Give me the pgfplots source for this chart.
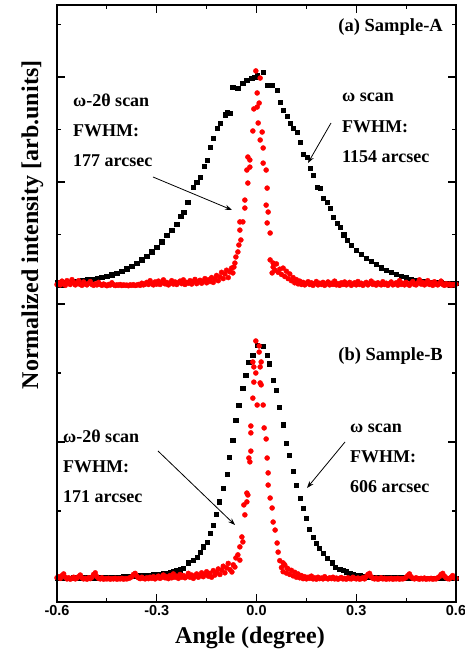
\documentclass[border=0pt]{standalone}
\usepackage{fontspec}
\setmainfont{Liberation Serif}
\newfontfamily\arialfont{Liberation Sans}
\usepackage{pgfplots}
\usepackage{pgfplotstable}
\pgfplotsset{compat=1.18}
\usetikzlibrary{arrows.meta}

% ---------------- Sample A ----------------
% omega scan (rocking curve)
\pgfplotstableread{
x y
-0.600 0.020
-0.585 0.022
-0.570 0.024
-0.555 0.026
-0.540 0.028
-0.525 0.031
-0.510 0.034
-0.495 0.037
-0.480 0.041
-0.465 0.046
-0.450 0.051
-0.435 0.058
-0.420 0.066
-0.405 0.075
-0.390 0.087
-0.375 0.100
-0.360 0.114
-0.345 0.130
-0.330 0.148
-0.315 0.168
-0.300 0.190
-0.285 0.216
-0.270 0.246
-0.255 0.270
-0.240 0.300
-0.228 0.338
-0.219 0.357
-0.207 0.405
-0.191 0.476
-0.180 0.500
-0.170 0.524
-0.158 0.575
-0.149 0.605
-0.140 0.667
-0.131 0.710
-0.119 0.757
-0.110 0.781
-0.095 0.820
-0.089 0.833
-0.080 0.829
-0.071 0.952
-0.056 0.948
-0.041 0.971
-0.029 0.986
-0.014 0.995
-0.005 1.000
0.002 1.010
0.020 1.024
0.032 0.962
0.047 0.962
0.062 0.938
0.071 0.881
0.080 0.843
0.092 0.814
0.101 0.781
0.110 0.757
0.122 0.738
0.131 0.690
0.140 0.633
0.152 0.619
0.161 0.567
0.170 0.533
0.182 0.476
0.191 0.471
0.200 0.424
0.212 0.405
0.221 0.376
0.230 0.333
0.242 0.305
0.252 0.286
0.262 0.250
0.272 0.224
0.285 0.198
0.300 0.176
0.315 0.156
0.330 0.138
0.345 0.122
0.360 0.108
0.375 0.092
0.390 0.080
0.405 0.070
0.420 0.060
0.435 0.052
0.450 0.045
0.465 0.038
0.480 0.033
0.495 0.029
0.510 0.025
0.525 0.023
0.540 0.021
0.555 0.020
0.570 0.019
0.585 0.018
0.600 0.018
}\AomegaTable

% omega-2theta scan
\pgfplotstableread{
x y
-0.600 0.012
-0.595 0.020
-0.590 0.010
-0.585 0.028
-0.580 0.015
-0.575 0.008
-0.570 0.030
-0.565 0.018
-0.560 0.012
-0.555 0.035
-0.550 0.022
-0.545 0.010
-0.540 0.016
-0.535 0.030
-0.530 0.012
-0.525 0.008
-0.520 0.024
-0.515 0.014
-0.510 0.010
-0.505 0.018
-0.500 0.026
-0.495 0.012
-0.490 0.008
-0.485 0.015
-0.480 0.010
-0.475 0.022
-0.470 0.012
-0.465 0.008
-0.460 0.014
-0.455 0.010
-0.450 0.006
-0.445 0.012
-0.440 0.009
-0.435 0.020
-0.430 0.011
-0.425 0.007
-0.420 0.010
-0.415 0.008
-0.410 0.012
-0.405 0.007
-0.400 0.010
-0.395 0.008
-0.390 0.009
-0.385 0.006
-0.380 0.010
-0.375 0.008
-0.370 0.011
-0.365 0.007
-0.360 0.009
-0.355 0.012
-0.350 0.008
-0.345 0.018
-0.340 0.010
-0.335 0.014
-0.330 0.022
-0.325 0.012
-0.320 0.030
-0.315 0.016
-0.310 0.010
-0.305 0.024
-0.300 0.014
-0.295 0.028
-0.290 0.012
-0.285 0.020
-0.280 0.034
-0.275 0.015
-0.270 0.022
-0.265 0.010
-0.260 0.018
-0.255 0.030
-0.250 0.014
-0.245 0.024
-0.240 0.012
-0.235 0.020
-0.230 0.028
-0.225 0.016
-0.220 0.034
-0.215 0.012
-0.210 0.022
-0.205 0.018
-0.200 0.030
-0.195 0.014
-0.190 0.026
-0.185 0.036
-0.180 0.016
-0.175 0.024
-0.170 0.032
-0.165 0.018
-0.160 0.028
-0.155 0.040
-0.150 0.020
-0.145 0.034
-0.140 0.026
-0.135 0.045
-0.130 0.022
-0.125 0.038
-0.120 0.055
-0.115 0.030
-0.110 0.048
-0.105 0.070
-0.100 0.040
-0.095 0.062
-0.090 0.080
-0.085 0.045
-0.080 0.072
-0.075 0.090
-0.071 0.067
-0.068 0.095
-0.065 0.114
-0.062 0.143
-0.056 0.167
-0.053 0.200
-0.047 0.224
-0.050 0.271
-0.050 0.310
-0.041 0.310
-0.035 0.376
-0.035 0.414
-0.026 0.495
-0.029 0.557
-0.020 0.571
-0.020 0.605
-0.026 0.619
-0.011 0.743
-0.008 0.848
0.002 0.857
0.005 0.781
0.008 0.876
0.002 0.924
0.011 0.995
-0.002 1.029
0.011 0.700
0.017 0.738
0.020 0.662
0.020 0.590
0.029 0.557
0.032 0.471
0.029 0.390
0.035 0.357
0.032 0.305
0.041 0.257
0.041 0.129
0.050 0.114
0.047 0.067
0.050 0.095
0.055 0.080
0.060 0.110
0.065 0.070
0.070 0.085
0.075 0.060
0.080 0.090
0.085 0.050
0.090 0.075
0.095 0.040
0.100 0.062
0.105 0.030
0.110 0.045
0.115 0.020
0.120 0.035
0.125 0.015
0.130 0.028
0.135 0.012
0.140 0.022
0.145 0.010
0.150 0.018
0.155 0.025
0.160 0.012
0.165 0.020
0.170 0.008
0.175 0.016
0.180 0.026
0.185 0.010
0.190 0.018
0.195 0.012
0.200 0.022
0.205 0.008
0.210 0.015
0.215 0.024
0.220 0.010
0.225 0.018
0.230 0.012
0.235 0.028
0.240 0.010
0.245 0.016
0.250 0.008
0.255 0.020
0.260 0.012
0.265 0.024
0.270 0.010
0.275 0.015
0.280 0.022
0.285 0.008
0.290 0.014
0.295 0.020
0.300 0.010
0.305 0.026
0.310 0.012
0.315 0.018
0.320 0.008
0.325 0.015
0.330 0.022
0.335 0.010
0.340 0.016
0.345 0.028
0.350 0.012
0.355 0.018
0.360 0.009
0.365 0.020
0.370 0.014
0.375 0.010
0.380 0.025
0.385 0.012
0.390 0.018
0.395 0.008
0.400 0.016
0.405 0.024
0.410 0.010
0.415 0.014
0.420 0.020
0.425 0.009
0.430 0.030
0.435 0.012
0.440 0.018
0.445 0.010
0.450 0.022
0.455 0.014
0.460 0.008
0.465 0.018
0.470 0.026
0.475 0.012
0.480 0.010
0.485 0.020
0.490 0.034
0.495 0.014
0.500 0.022
0.505 0.010
0.510 0.016
0.515 0.030
0.520 0.012
0.525 0.020
0.530 0.008
0.535 0.025
0.540 0.014
0.545 0.010
0.550 0.018
0.555 0.028
0.560 0.012
0.565 0.008
0.570 0.016
0.575 0.010
0.580 0.014
0.585 0.008
0.590 0.012
0.595 0.010
0.600 0.014
}\AtwothetaTable

% ---------------- Sample B ----------------
% omega scan (rocking curve)
\pgfplotstableread{
x y
-0.600 0.006
-0.590 0.006
-0.580 0.007
-0.570 0.007
-0.560 0.007
-0.550 0.008
-0.540 0.008
-0.530 0.008
-0.520 0.008
-0.510 0.009
-0.500 0.009
-0.490 0.009
-0.480 0.009
-0.470 0.010
-0.460 0.010
-0.450 0.010
-0.440 0.010
-0.430 0.011
-0.420 0.011
-0.410 0.011
-0.400 0.012
-0.390 0.012
-0.380 0.013
-0.370 0.013
-0.360 0.014
-0.350 0.015
-0.340 0.016
-0.330 0.017
-0.320 0.018
-0.310 0.019
-0.300 0.020
-0.290 0.021
-0.280 0.023
-0.270 0.025
-0.260 0.027
-0.250 0.030
-0.240 0.033
-0.230 0.038
-0.221 0.043
-0.206 0.062
-0.191 0.072
-0.179 0.083
-0.170 0.101
-0.161 0.120
-0.149 0.138
-0.140 0.170
-0.131 0.199
-0.122 0.239
-0.113 0.283
-0.101 0.333
-0.089 0.384
-0.083 0.446
-0.071 0.507
-0.062 0.580
-0.053 0.634
-0.041 0.696
-0.032 0.743
-0.023 0.790
-0.011 0.815
0.002 0.851
0.020 0.848
0.032 0.815
0.038 0.783
0.050 0.725
0.059 0.688
0.068 0.627
0.080 0.562
0.089 0.496
0.098 0.453
0.110 0.395
0.119 0.344
0.131 0.297
0.140 0.261
0.149 0.225
0.158 0.185
0.170 0.156
0.179 0.134
0.188 0.116
0.200 0.098
0.212 0.080
0.227 0.062
0.236 0.047
0.250 0.040
0.260 0.036
0.270 0.030
0.280 0.025
0.290 0.021
0.300 0.018
0.310 0.016
0.320 0.014
0.330 0.012
0.340 0.011
0.350 0.011
0.360 0.010
0.370 0.010
0.380 0.009
0.390 0.009
0.400 0.009
0.410 0.008
0.420 0.008
0.430 0.008
0.440 0.008
0.450 0.008
0.460 0.007
0.470 0.007
0.480 0.007
0.490 0.007
0.500 0.007
0.510 0.007
0.520 0.006
0.530 0.006
0.540 0.006
0.550 0.006
0.560 0.006
0.570 0.006
0.580 0.006
0.590 0.006
0.600 0.006
}\BomegaTable

% omega-2theta scan
\pgfplotstableread{
x y
-0.600 0.008
-0.595 0.012
-0.590 0.006
-0.585 0.016
-0.580 0.022
-0.575 0.010
-0.570 0.004
-0.565 0.008
-0.560 0.003
-0.555 0.006
-0.550 0.010
-0.545 0.004
-0.540 0.007
-0.535 0.012
-0.530 0.018
-0.525 0.008
-0.520 0.004
-0.515 0.006
-0.510 0.003
-0.505 0.008
-0.500 0.005
-0.495 0.010
-0.490 0.020
-0.485 0.026
-0.480 0.012
-0.475 0.006
-0.470 0.004
-0.465 0.008
-0.460 0.003
-0.455 0.005
-0.450 0.004
-0.445 0.006
-0.440 0.003
-0.435 0.005
-0.430 0.004
-0.425 0.006
-0.420 0.003
-0.415 0.005
-0.410 0.004
-0.405 0.006
-0.400 0.003
-0.395 0.005
-0.390 0.004
-0.385 0.006
-0.380 0.008
-0.375 0.012
-0.370 0.020
-0.365 0.024
-0.360 0.014
-0.355 0.008
-0.350 0.005
-0.345 0.010
-0.340 0.006
-0.335 0.004
-0.330 0.008
-0.325 0.005
-0.320 0.010
-0.315 0.006
-0.310 0.012
-0.305 0.004
-0.300 0.008
-0.295 0.014
-0.290 0.006
-0.285 0.010
-0.280 0.018
-0.275 0.008
-0.270 0.012
-0.265 0.005
-0.260 0.016
-0.255 0.008
-0.250 0.022
-0.245 0.010
-0.240 0.014
-0.235 0.006
-0.230 0.020
-0.225 0.010
-0.220 0.016
-0.215 0.008
-0.210 0.012
-0.205 0.024
-0.200 0.010
-0.195 0.018
-0.190 0.006
-0.185 0.014
-0.180 0.022
-0.175 0.010
-0.170 0.016
-0.165 0.026
-0.160 0.012
-0.155 0.020
-0.150 0.030
-0.145 0.014
-0.140 0.024
-0.135 0.010
-0.130 0.034
-0.125 0.018
-0.120 0.028
-0.115 0.040
-0.110 0.020
-0.105 0.036
-0.100 0.050
-0.095 0.026
-0.090 0.044
-0.085 0.060
-0.080 0.038
-0.074 0.029
-0.070 0.055
-0.065 0.047
-0.062 0.080
-0.056 0.091
-0.050 0.072
-0.050 0.120
-0.044 0.156
-0.041 0.138
-0.038 0.272
-0.035 0.236
-0.029 0.315
-0.026 0.308
-0.029 0.283
-0.023 0.442
-0.020 0.428
-0.017 0.467
-0.017 0.558
-0.017 0.533
-0.011 0.659
-0.011 0.790
-0.008 0.772
-0.008 0.717
-0.002 0.750
-0.002 0.866
0.008 0.848
0.008 0.826
0.014 0.790
0.011 0.772
0.011 0.714
0.014 0.707
0.002 0.634
0.020 0.634
0.023 0.551
0.029 0.511
0.032 0.442
0.035 0.388
0.035 0.344
0.041 0.297
0.047 0.261
0.050 0.210
0.056 0.181
0.062 0.134
0.065 0.101
0.080 0.062
0.092 0.043
0.070 0.070
0.075 0.045
0.080 0.030
0.085 0.055
0.090 0.025
0.095 0.040
0.100 0.020
0.105 0.035
0.110 0.015
0.115 0.028
0.120 0.010
0.125 0.022
0.130 0.008
0.135 0.016
0.140 0.005
0.145 0.012
0.150 0.004
0.155 0.010
0.160 0.006
0.165 0.014
0.170 0.004
0.175 0.008
0.180 0.003
0.185 0.010
0.190 0.005
0.195 0.007
0.200 0.004
0.205 0.012
0.210 0.006
0.215 0.004
0.220 0.008
0.225 0.005
0.230 0.010
0.235 0.004
0.240 0.007
0.245 0.003
0.250 0.006
0.255 0.009
0.260 0.004
0.265 0.006
0.270 0.003
0.275 0.008
0.280 0.005
0.285 0.004
0.290 0.010
0.295 0.006
0.300 0.004
0.305 0.007
0.310 0.003
0.315 0.005
0.320 0.008
0.325 0.004
0.330 0.012
0.335 0.020
0.340 0.024
0.345 0.012
0.350 0.006
0.355 0.004
0.360 0.007
0.365 0.003
0.370 0.005
0.375 0.008
0.380 0.004
0.385 0.006
0.390 0.003
0.395 0.005
0.400 0.004
0.405 0.006
0.410 0.003
0.415 0.005
0.420 0.004
0.425 0.006
0.430 0.003
0.435 0.005
0.440 0.004
0.445 0.006
0.450 0.010
0.455 0.016
0.460 0.022
0.465 0.012
0.470 0.006
0.475 0.004
0.480 0.008
0.485 0.005
0.490 0.003
0.495 0.006
0.500 0.004
0.505 0.007
0.510 0.003
0.515 0.005
0.520 0.004
0.525 0.006
0.530 0.003
0.535 0.005
0.540 0.004
0.545 0.008
0.550 0.012
0.555 0.020
0.560 0.024
0.565 0.014
0.570 0.008
0.575 0.005
0.580 0.004
0.585 0.010
0.590 0.016
0.595 0.008
0.600 0.006
}\BtwothetaTable

\pgfplotsset{
  panel/.style={
    scale only axis,
    width=399pt,
    xmin=-0.6, xmax=0.6,
    xtick={-0.6,-0.3,0,0.3,0.6},
    minor xtick={-0.45,-0.15,0.15,0.45},
    axis line style={draw=none},
    tick align=inside,
    major tick length=8pt,
    minor tick length=4pt,
    every tick/.style={black, line width=1.1pt},
    yticklabels={},
    ytick pos=both,
  },
  omegamarks/.style={only marks, mark=square*, mark size=2.2pt, black},
  twothetamarks/.style={only marks, mark=*, mark size=2.5pt, red, mark options={draw=red, fill=red}},
}

\newcommand{\annfont}{\fontsize{18}{20}\selectfont\bfseries}

\begin{document}
\begin{tikzpicture}
  % lower panel: Sample-B
  \begin{axis}[panel,
      at={(0pt,0pt)}, anchor=south west,
      height=305pt,
      ymin=-0.0797, ymax=1.0254,
      ytick={0,0.5,1}, minor ytick={0.25,0.75},
      xtick pos=left,
      xticklabels={-0.6,-0.3,0.0,0.3,0.6},
      xticklabel style={font=\arialfont\fontsize{14.5}{15}\selectfont\bfseries},
    ]
    \addplot[omegamarks] table[x=x, y=y] {\BomegaTable};
    \addplot[twothetamarks] table[x=x, y=y] {\BtwothetaTable};
  \end{axis}

  % upper panel: Sample-A
  \begin{axis}[panel,
      at={(0pt,305pt)}, anchor=south west,
      height=292pt,
      ymin=-0.0476, ymax=1.343,
      ytick={0,0.5,1}, minor ytick={0.25,0.75,1.25},
      xtick pos=right,
      xticklabels={},
    ]
    \addplot[omegamarks] table[x=x, y=y] {\AomegaTable};
    \addplot[twothetamarks] table[x=x, y=y] {\AtwothetaTable};
  \end{axis}

  % common frame around both panels
  \draw[line width=1.5pt] (0pt,0pt) rectangle (399pt,597pt);

  % panel titles
  \node[anchor=base east, inner sep=0pt, font=\fontsize{18.5}{20}\selectfont\bfseries] at (386pt,570pt) {(a) Sample-A};
  \node[anchor=base east, inner sep=0pt, font=\fontsize{18.5}{20}\selectfont\bfseries] at (386pt,241pt) {(b) Sample-B};

  % annotations, Sample-A
  \node[anchor=base west, inner sep=0pt, font=\annfont] at (16pt,495pt) {ω-2θ scan};
  \node[anchor=base west, inner sep=0pt, font=\annfont] at (16pt,465pt) {FWHM:};
  \node[anchor=base west, inner sep=0pt, font=\annfont] at (16pt,435pt) {177 arcsec};
  \node[anchor=base west, inner sep=0pt, font=\annfont] at (285pt,500pt) {ω scan};
  \node[anchor=base west, inner sep=0pt, font=\annfont] at (285pt,469pt) {FWHM:};
  \node[anchor=base west, inner sep=0pt, font=\annfont] at (285pt,439pt) {1154 arcsec};
  \draw[-{Stealth[length=7pt,width=5pt]}, line width=0.8pt] (96pt,425pt) -- (175pt,392pt);
  \draw[-{Stealth[length=7pt,width=5pt]}, line width=0.8pt] (274pt,479pt) -- (251pt,439pt);

  % annotations, Sample-B
  \node[anchor=base west, inner sep=0pt, font=\annfont] at (6pt,159pt) {ω-2θ scan};
  \node[anchor=base west, inner sep=0pt, font=\annfont] at (6pt,129pt) {FWHM:};
  \node[anchor=base west, inner sep=0pt, font=\annfont] at (6pt,99pt) {171 arcsec};
  \node[anchor=base west, inner sep=0pt, font=\annfont] at (293pt,169pt) {ω scan};
  \node[anchor=base west, inner sep=0pt, font=\annfont] at (293pt,139pt) {FWHM:};
  \node[anchor=base west, inner sep=0pt, font=\annfont] at (293pt,109pt) {606 arcsec};
  \draw[-{Stealth[length=7pt,width=5pt]}, line width=0.8pt] (101pt,151pt) -- (178pt,77pt);
  \draw[-{Stealth[length=7pt,width=5pt]}, line width=0.8pt] (288pt,160pt) -- (250pt,114pt);

  % axis titles
  \node[anchor=base, inner sep=0pt, font=\fontsize{24}{26}\selectfont\bfseries] at (193pt,-41pt) {Angle (degree)};
  \node[rotate=90, inner sep=0pt, font=\fontsize{24}{26}\selectfont\bfseries] at (-24.5pt,377pt) {Normalized intensity [arb.units]};

  \pgfresetboundingbox
  \path (-57pt,-53pt) rectangle (408pt,602pt);
\end{tikzpicture}
\end{document}
